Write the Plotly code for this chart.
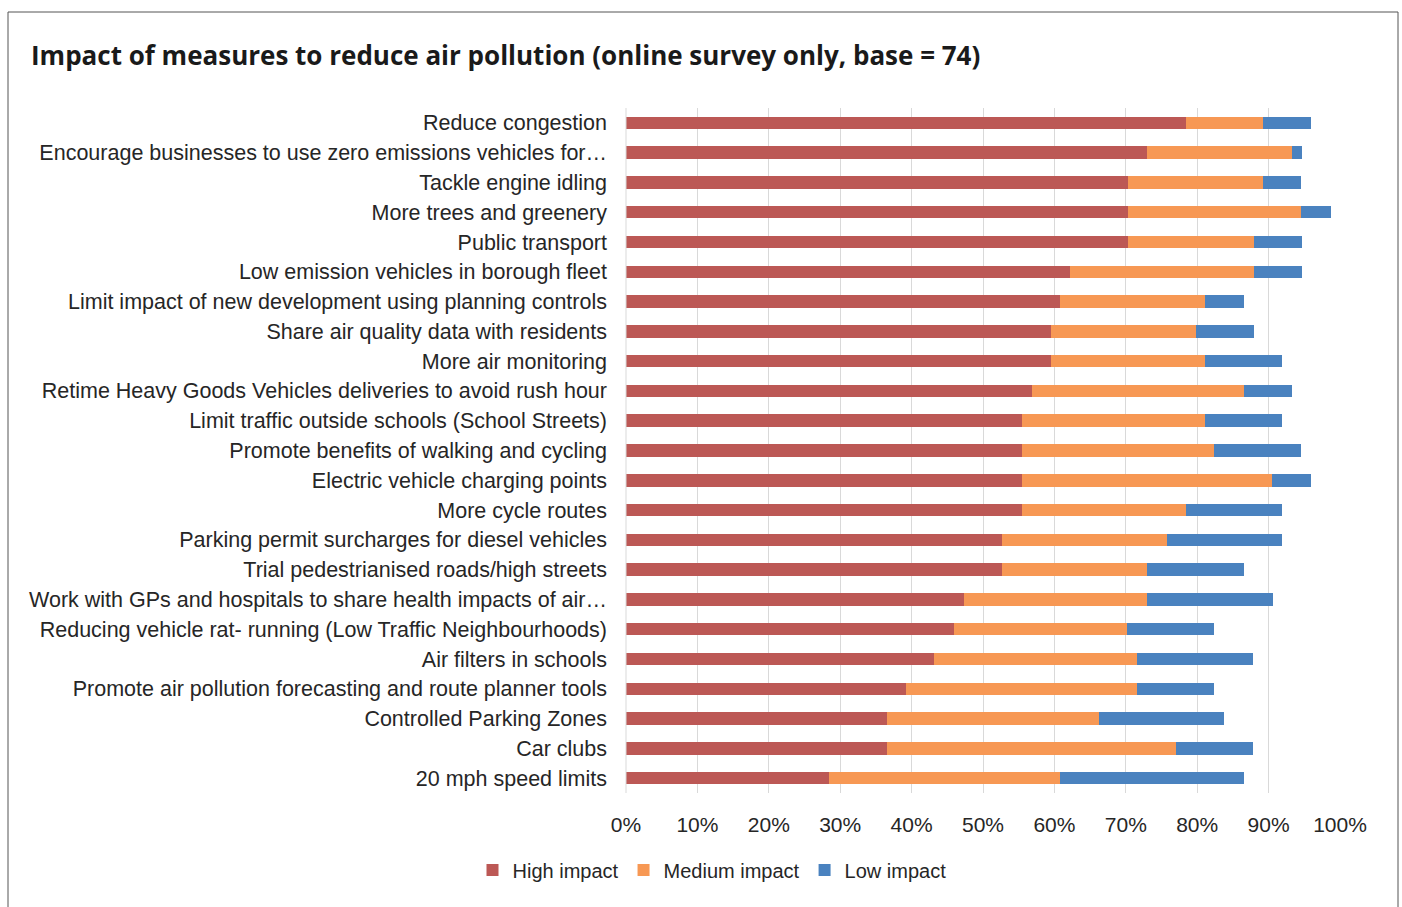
import plotly.graph_objects as go

categories = [
    "Reduce congestion",
    "Encourage businesses to use zero emissions vehicles for…",
    "Tackle engine idling",
    "More trees and greenery",
    "Public transport",
    "Low emission vehicles in borough fleet",
    "Limit impact of new development using planning controls",
    "Share air quality data with residents",
    "More air monitoring",
    "Retime Heavy Goods Vehicles deliveries to avoid rush hour",
    "Limit traffic outside schools (School Streets)",
    "Promote benefits of walking and cycling",
    "Electric vehicle charging points",
    "More cycle routes",
    "Parking permit surcharges for diesel vehicles",
    "Trial pedestrianised roads/high streets",
    "Work with GPs and hospitals to share health impacts of air…",
    "Reducing vehicle rat- running (Low Traffic Neighbourhoods)",
    "Air filters in schools",
    "Promote air pollution forecasting and route planner tools",
    "Controlled Parking Zones",
    "Car clubs",
    "20 mph speed limits",
]

high_impact = [78.4, 73.0, 70.3, 70.3, 70.3, 62.2, 60.8, 59.5, 59.5, 56.8, 55.4, 55.4,
               55.4, 55.4, 52.7, 52.7, 47.3, 45.9, 43.2, 39.2, 36.5, 36.5, 28.4]
medium_impact = [10.8, 20.3, 18.9, 24.3, 17.6, 25.7, 20.3, 20.3, 21.6, 29.7, 25.7, 27.0,
                 35.1, 23.0, 23.0, 20.3, 25.7, 24.3, 28.4, 32.4, 29.7, 40.5, 32.4]
low_impact = [6.8, 1.4, 5.4, 4.1, 6.8, 6.8, 5.4, 8.1, 10.8, 6.8, 10.8, 12.2,
              5.4, 13.5, 16.2, 13.5, 17.6, 12.2, 16.2, 10.8, 17.6, 10.8, 25.7]

x_ticks = [0, 10, 20, 30, 40, 50, 60, 70, 80, 90, 100]
x_tick_labels = [f"{t}%" for t in x_ticks]

series = [
    ("High impact", high_impact, "#BC5855"),
    ("Medium impact", medium_impact, "#F79854"),
    ("Low impact", low_impact, "#4A82BF"),
]

fig = go.Figure()
for name, vals, col in series:
    fig.add_trace(go.Bar(
        y=categories, x=vals, name=name, orientation="h",
        marker=dict(color=col, line=dict(width=0)),
    ))

W, H = 1402, 907
L, R, T, B = 626, 1340, 108, 793

def px_x(p):
    return (p - L) / (R - L)

def px_y(p):
    return (B - p) / (B - T)

fig.update_layout(
    width=W, height=H,
    barmode="stack",
    bargap=0.58,
    plot_bgcolor="white",
    paper_bgcolor="white",
    margin=dict(l=L, r=W - R, t=T, b=H - B, pad=0),
    font=dict(family="Liberation Sans, Arial, sans-serif", color="#262626"),
    title=dict(
        text="<b>Impact of measures to reduce air pollution (online survey only, base = 74)</b>",
        font=dict(family="Open Sans, sans-serif", size=26, color="#1a1a1a"),
        xref="container", yref="container",
        x=31 / W, xanchor="left",
        y=1 - 56 / H, yanchor="middle",
    ),
    xaxis=dict(
        range=[0, 100],
        tickvals=x_ticks,
        ticktext=x_tick_labels,
        showgrid=True, gridcolor="#D9D9D9", gridwidth=1,
        zeroline=False,
        showline=False,
        ticks="",
        tickfont=dict(size=21, color="#262626"),
        ticklabelstandoff=17,
        fixedrange=True,
    ),
    yaxis=dict(
        autorange="reversed",
        ticks="",
        showgrid=False,
        tickfont=dict(size=21.5, color="#262626"),
        ticklabelstandoff=18,
        fixedrange=True,
    ),
    legend=dict(
        orientation="h",
        xref="container", yref="container",
        x=712 / W, xanchor="center",
        y=1 - 870 / H, yanchor="middle",
        font=dict(size=20, color="#262626"),
        traceorder="normal",
        itemwidth=30,
    ),
    shapes=[
        dict(type="rect", xref="paper", yref="paper",
             x0=px_x(8), x1=px_x(1398), y0=px_y(930), y1=px_y(12),
             line=dict(color="#555555", width=1), fillcolor="rgba(0,0,0,0)",
             layer="below"),
        dict(type="line", xref="paper", yref="paper",
             x0=0, x1=0, y0=0, y1=1,
             line=dict(color="#D9D9D9", width=1)),
    ],
)

fig.write_html(
    "out.html",
    config={"displayModeBar": False},
    post_script="document.body.style.margin='0';document.body.style.overflow='hidden';",
)
